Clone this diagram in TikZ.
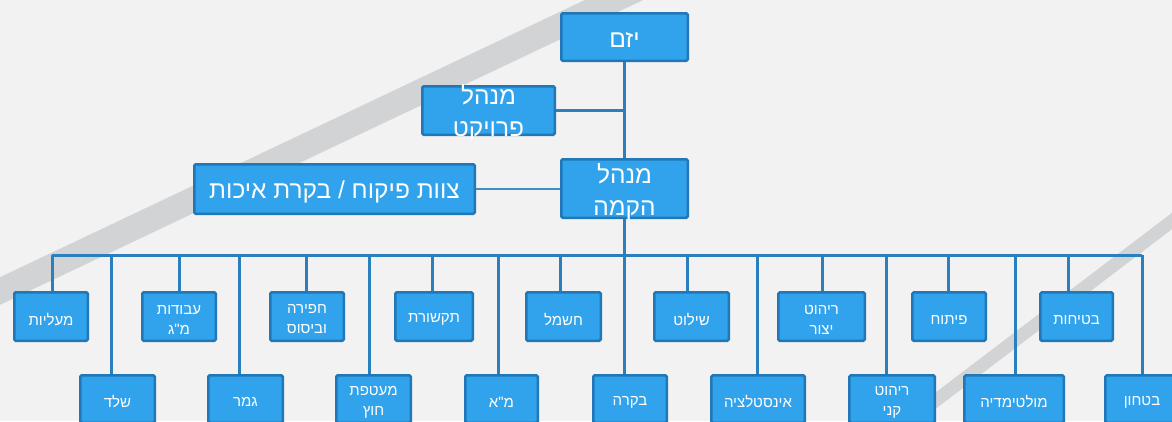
\documentclass[tikz,border=0pt]{standalone}
\usepackage{fontspec}
\setmainfont{Liberation Sans}
\newfontfamily\hebfont[Script=Hebrew]{Liberation Sans}
\TeXXeTstate=1
\newcommand\hb[1]{\beginR #1\endR}
\definecolor{bgc}{RGB}{242,242,242}
\definecolor{stripec}{RGB}{210,211,213}
\definecolor{boxc}{RGB}{48,163,236}
\definecolor{bordc}{RGB}{34,120,182}
\definecolor{connc}{RGB}{42,128,191}
\definecolor{thinc}{RGB}{62,144,200}
\tikzset{
  box/.style={draw=bordc, line width=2.5pt, fill=boxc, inner sep=0pt, rounded corners=1.5pt},
  txt/.style={text=white, inner sep=0pt, align=center},
  bigtxt/.style={txt, font=\hebfont\fontsize{24.5}{32}\selectfont},
  smalltxt/.style={txt, font=\hebfont\fontsize{15}{20}\selectfont},
  conn/.style={draw=connc, line width=3pt},
  thinconn/.style={draw=thinc, line width=1.5pt},
  stripe/.style={draw=stripec}
}
\begin{document}
\begin{tikzpicture}[x=1pt,y=-1pt]
\useasboundingbox (0,0) rectangle (1172,421);
\clip (0,0) rectangle (1172,421);
\fill[bgc] (0,0) rectangle (1172,421);
% background stripes
\draw[stripe, line width=25pt] (-20,300.5) -- (660,-21.8);
\draw[stripe, line width=13pt] (1200,199.7) -- (870,450.5);

\coordinate (bus) at (624,255);
\coordinate (busL) at (52,255);
\coordinate (busR) at (1142,255);
\coordinate (yzmS) at (624,60);
\coordinate (mhN) at (624,160);
\draw[conn] (yzmS) -- (mhN);
\draw[conn] (bus) -- (624,215);
\draw[conn] (busL) -- (busR);

% top nodes
\node[box, minimum width=126.5pt, minimum height=47.5pt] (yzm) at (624.5,37) {};
\node[bigtxt] (yzmT) at ([yshift=-3pt]yzm.center) {\hb{יזם}};
\node[box, minimum width=132.5pt, minimum height=48.5pt] (mp) at (488.5,110.5) {};
\node[bigtxt] (mpT) at ([yshift=-2pt]mp.center) {\hb{מנהל}\\\hb{פרויקט}};
\node[box, minimum width=126.5pt, minimum height=58.5pt] (mh) at (624.5,188.5) {};
\node[bigtxt] (mhT) at ([yshift=-3pt]mh.center) {\hb{מנהל}\\\hb{הקמה}};
\node[box, minimum width=280.5pt, minimum height=49.5pt] (qa) at (334.5,189) {};
\node[bigtxt] (qaT) at ([yshift=-3pt]qa.center) {\hb{צוות פיקוח / בקרת איכות}};

\draw[conn] (mp.east) -- (mp.east -| yzmS);
\draw[thinconn] (qa.east) -- (qa.east -| mh.west);

% child boxes: name, cx, cy, width, connector x, height, text
\newcommand\child[7]{%
  \draw[conn] (#5,255) -- (#5,#3-#6/2);
  \node[box, minimum width=#4pt-2.5pt, minimum height=#6pt-2.5pt] (#1) at (#2,#3) {};
  \node[smalltxt] (#1T) at ([yshift=-3pt]#1.center) {#7};
}
% top row
\child{maliot}{51}{316.5}{76}{52}{51}{\hb{מעליות}}
\child{avodot}{179}{316.5}{76}{179}{51}{\hb{עבודות}\\\hb{מ"ג}}
\child{hafira}{307}{316.5}{76}{306}{51}{\hb{חפירה}\\\hb{וביסוס}}
\child{tikshoret}{434}{316.5}{80}{432}{51}{\hb{תקשורת}}
\child{hashmal}{563.5}{316.5}{77}{560}{51}{\hb{חשמל}}
\child{shilut}{691.5}{316.5}{77}{687}{51}{\hb{שילוט}}
\child{rihuty}{821.5}{316.5}{89}{822}{51}{\hb{ריהוט}\\\hb{יצור}}
\child{pituah}{949}{316.5}{76}{948}{51}{\hb{פיתוח}}
\child{betihut}{1076.5}{316.5}{75}{1068}{51}{\hb{בטיחות}}
% bottom row
\child{sheled}{117.5}{399}{77}{111}{50}{\hb{שלד}}
\child{gmar}{245.5}{399}{77}{239}{50}{\hb{גמר}}
\child{maatefet}{373.5}{399}{77}{369}{50}{\hb{מעטפת}\\\hb{חוץ}}
\child{ma}{501.5}{399}{75}{498}{50}{\hb{מ"א}}
\child{bakara}{630}{399}{76}{624}{50}{\hb{בקרה}}
\child{inst}{758}{399}{96}{757}{50}{\hb{אינסטלציה}}
\child{rihutk}{892}{399}{88}{886}{50}{\hb{ריהוט}\\\hb{קני}}
\child{multi}{1014}{399}{102}{1015}{50}{\hb{מולטימדיה}}
\child{bitahon}{1142}{399}{76}{1142}{50}{\hb{בטחון}}
\end{tikzpicture}
\end{document}
